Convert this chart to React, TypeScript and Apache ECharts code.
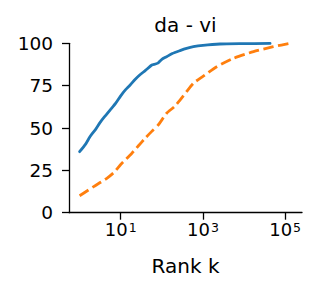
import React, { useEffect, useRef } from "react";
import * as echarts from "echarts";

const blueRanks = [1, 1.4, 1.8, 2.5, 3.1, 4, 5.5, 7.5, 10, 13, 17, 22, 29, 40, 57, 70, 82, 100, 131, 180, 277, 400, 585, 1000, 2600, 8000, 43000];
const blueValues = [36.0, 40.5, 45, 49.5, 53, 56.5, 60.6, 64.5, 69, 72.5, 75.4, 78.5, 81.3, 84, 87.2, 87.8, 88.5, 90.5, 92.1, 94, 95.7, 97, 98, 98.8, 99.6, 99.8, 99.9];

const orangeRanks = [1, 2.2, 4.6, 7, 10, 18.5, 27, 39, 57, 82, 131, 200, 277, 400, 585, 1000, 2170, 5500, 17000, 51500, 132000];
const orangeValues = [10, 15.4, 20.3, 24, 28.5, 35, 39.5, 43.9, 48, 51.8, 58.7, 62.5, 66.5, 71.5, 76.4, 80.5, 86.2, 91.1, 95.1, 98, 100];

const xTickValues = [10, 1000, 100000];
const yTicks = [0, 25, 50, 75, 100];

const titleText = "da - vi";
const xLabelText = "Rank k";

const FONT = "DejaVu Sans";

export default function App() {
  const ref = useRef<HTMLDivElement>(null);
  useEffect(() => {
    if (!ref.current) return;
    const chart = echarts.init(ref.current, null, { renderer: "svg" });
    const zip = (xs: number[], ys: number[]) => xs.map((x, i) => [x, ys[i]]);
    chart.setOption({
      animation: false,
      backgroundColor: "#ffffff",
      textStyle: { fontFamily: FONT },
      graphic: [
        {
          type: "text",
          x: 185.5,
          y: 24.5,
          style: {
            text: titleText,
            fontFamily: FONT,
            fontSize: 20,
            fill: "#000",
            align: "center",
            verticalAlign: "middle",
          },
        },
      ],
      grid: {
        left: 69,
        top: 43.3,
        right: 23,
        bottom: 82.3,
        containLabel: false,
        outerBoundsMode: "none",
      },
      xAxis: {
        type: "log",
        logBase: 10,
        min: 0.552,
        max: 257000,
        name: xLabelText,
        nameLocation: "middle",
        nameGap: 43,
        nameTextStyle: { fontFamily: FONT, fontSize: 20, color: "#000" },
        axisLine: { show: true, onZero: false, lineStyle: { color: "#000", width: 1.3 } },
        axisTick: {
          show: true,
          inside: false,
          length: 7,
          lineStyle: { color: "#000", width: 1.3 },
          customValues: xTickValues,
        },
        minorTick: { show: false },
        splitLine: { show: false },
        axisLabel: {
          customValues: xTickValues,
          margin: 8,
          color: "#000",
          fontFamily: FONT,
          fontSize: 18,
          formatter: (v: number) => `{b|10}{s|${Math.round(Math.log10(v))}}`,
          rich: {
            b: { fontFamily: FONT, fontSize: 18, color: "#000", lineHeight: 18, verticalAlign: "bottom" },
            s: { fontFamily: FONT, fontSize: 12.5, color: "#000", lineHeight: 12, verticalAlign: "top", padding: [0, 0, 14, 1] },
          },
        },
      },
      yAxis: {
        type: "value",
        min: 0,
        max: 100,
        interval: 25,
        axisLine: { show: true, onZero: false, lineStyle: { color: "#000", width: 1.3 } },
        axisTick: { show: true, inside: false, length: 7, lineStyle: { color: "#000", width: 1.3 } },
        splitLine: { show: false },
        axisLabel: {
          margin: 16,
          align: "right",
          fontFamily: FONT,
          fontSize: 18.5,
          color: "#000",
        },
      },
      series: [
        {
          type: "line",
          data: zip(blueRanks, blueValues),
          showSymbol: false,
          symbol: "none",
          smooth: 0.2,
          lineStyle: { color: "#1f77b4", width: 2.8, cap: "round", join: "round" },
          itemStyle: { color: "#1f77b4" },
        },
        {
          type: "line",
          data: zip(orangeRanks, orangeValues),
          showSymbol: false,
          symbol: "none",
          smooth: 0.2,
          lineStyle: { color: "#ff7f0e", width: 2.8, type: [10.5, 4.5], cap: "butt", join: "round" },
          itemStyle: { color: "#ff7f0e" },
        },
      ],
    });
    return () => chart.dispose();
  }, []);
  return (
    <div
      ref={ref}
      style={{ position: "fixed", left: 0, top: 0, width: 325, height: 295, background: "#fff" }}
    />
  );
}
